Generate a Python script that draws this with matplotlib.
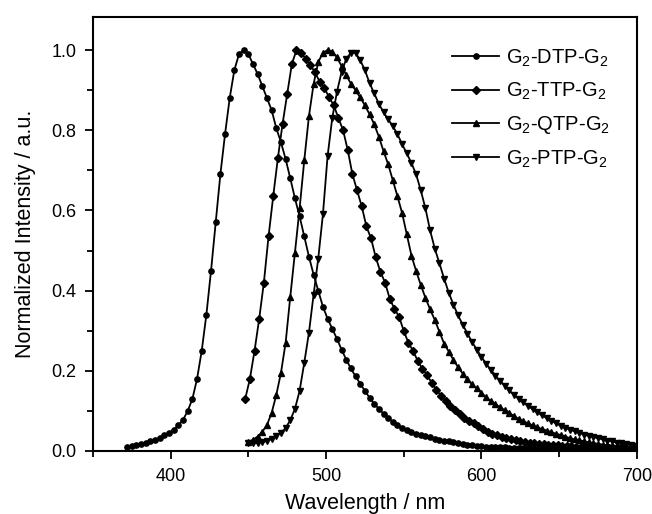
# Normalized PL spectra of the four G2-xTP-G2 compounds

import numpy as np
import matplotlib.pyplot as plt
from matplotlib.ticker import MultipleLocator, FormatStrFormatter

plt.rcParams['font.family'] = ['Liberation Sans', 'DejaVu Sans']
plt.rcParams['mathtext.fontset'] = 'custom'
plt.rcParams['mathtext.rm'] = 'Liberation Sans'
plt.rcParams['mathtext.it'] = 'Liberation Sans'

step = 3  # nm between recorded points

# G2-DTP-G2, 372 - 699 nm
dtp_start = 372
dtp = [0.009, 0.012, 0.015, 0.018, 0.021, 0.024, 0.028, 0.033, 0.039, 0.045,
       0.053, 0.064, 0.078, 0.100, 0.130, 0.180, 0.250, 0.340, 0.450, 0.570,
       0.690, 0.790, 0.880, 0.950, 0.990, 1.000, 0.990, 0.965, 0.940, 0.910,
       0.880, 0.850, 0.805, 0.770, 0.728, 0.680, 0.630, 0.585, 0.535, 0.485,
       0.440, 0.400, 0.360, 0.330, 0.305, 0.280, 0.253, 0.228, 0.206, 0.186,
       0.168, 0.150, 0.133, 0.118, 0.105, 0.093, 0.082, 0.073, 0.065, 0.058,
       0.052, 0.047, 0.043, 0.040, 0.037, 0.034, 0.031, 0.028, 0.026, 0.024,
       0.022, 0.020, 0.018, 0.016, 0.015, 0.013, 0.012, 0.011, 0.010, 0.010,
       0.009, 0.009, 0.008, 0.008, 0.007, 0.007, 0.007, 0.006, 0.006, 0.006,
       0.005, 0.005, 0.005, 0.005, 0.004, 0.004, 0.004, 0.004, 0.004, 0.003,
       0.003, 0.003, 0.003, 0.003, 0.003, 0.003, 0.002, 0.002, 0.002, 0.002]

# G2-TTP-G2, 448 - 697 nm
ttp_start = 448
ttp = [0.130, 0.180, 0.250, 0.330, 0.420, 0.535, 0.635, 0.730, 0.815, 0.890,
       0.965, 1.000, 0.993, 0.978, 0.962, 0.944, 0.920, 0.905, 0.882, 0.862,
       0.830, 0.800, 0.750, 0.690, 0.650, 0.610, 0.560, 0.530, 0.483, 0.447,
       0.420, 0.380, 0.355, 0.335, 0.300, 0.270, 0.250, 0.225, 0.205, 0.190,
       0.170, 0.153, 0.138, 0.125, 0.113, 0.102, 0.092, 0.083, 0.076, 0.070,
       0.062, 0.055, 0.048, 0.043, 0.039, 0.035, 0.032, 0.029, 0.027, 0.025,
       0.023, 0.021, 0.019, 0.018, 0.017, 0.016, 0.015, 0.014, 0.013, 0.012,
       0.012, 0.011, 0.010, 0.010, 0.009, 0.009, 0.008, 0.008, 0.008, 0.007,
       0.007, 0.007, 0.006, 0.006]

# G2-QTP-G2, 450 - 699 nm
qtp_start = 450
qtp = [0.022, 0.028, 0.036, 0.048, 0.065, 0.095, 0.140, 0.195, 0.270, 0.385,
       0.495, 0.605, 0.725, 0.835, 0.915, 0.970, 0.993, 1.000, 0.996, 0.982,
       0.960, 0.938, 0.916, 0.900, 0.882, 0.862, 0.840, 0.815, 0.784, 0.748,
       0.715, 0.675, 0.635, 0.593, 0.540, 0.487, 0.449, 0.414, 0.382, 0.353,
       0.327, 0.297, 0.268, 0.248, 0.227, 0.209, 0.193, 0.179, 0.166, 0.156,
       0.145, 0.134, 0.125, 0.117, 0.109, 0.102, 0.095, 0.087, 0.080, 0.074,
       0.069, 0.064, 0.059, 0.055, 0.051, 0.047, 0.043, 0.040, 0.036, 0.032,
       0.029, 0.027, 0.024, 0.022, 0.020, 0.018, 0.016, 0.014, 0.013, 0.012,
       0.011, 0.010, 0.010, 0.009]

# G2-PTP-G2, 450 - 699 nm
ptp_start = 450
ptp = [0.020, 0.020, 0.020, 0.022, 0.025, 0.030, 0.037, 0.046, 0.057, 0.077,
       0.105, 0.150, 0.220, 0.295, 0.390, 0.480, 0.590, 0.735, 0.830, 0.895,
       0.945, 0.978, 0.993, 0.993, 0.975, 0.950, 0.918, 0.892, 0.866, 0.845,
       0.827, 0.810, 0.790, 0.765, 0.742, 0.718, 0.690, 0.650, 0.605, 0.550,
       0.505, 0.468, 0.430, 0.395, 0.365, 0.338, 0.315, 0.293, 0.272, 0.253,
       0.235, 0.218, 0.203, 0.188, 0.175, 0.163, 0.151, 0.140, 0.130, 0.121,
       0.113, 0.104, 0.096, 0.089, 0.082, 0.075, 0.069, 0.063, 0.058, 0.053,
       0.049, 0.045, 0.041, 0.038, 0.035, 0.032, 0.029, 0.026, 0.024, 0.021,
       0.019, 0.017, 0.015, 0.013]

labels = ['G$_2$-DTP-G$_2$', 'G$_2$-TTP-G$_2$', 'G$_2$-QTP-G$_2$', 'G$_2$-PTP-G$_2$']
series = [(dtp_start, dtp, 'o', 3.8),
          (ttp_start, ttp, 'D', 3.8),
          (qtp_start, qtp, '^', 4.3),
          (ptp_start, ptp, 'v', 4.3)]

fig = plt.figure(figsize=(6.52, 5.14), dpi=100)
ax = fig.add_axes([0.1426, 0.1226, 0.834, 0.844])

for (start, vals, mk, ms), lab in zip(series, labels):
    wl = start + step * np.arange(len(vals))
    ax.plot(wl, vals, color='black', lw=1.3, marker=mk, ms=ms,
            mfc='black', mec='black', label=lab)

ax.set_xlim(350, 700)
ax.set_ylim(0, 1.082)
ax.xaxis.set_minor_locator(MultipleLocator(50))
ax.set_xticks([400, 500, 600, 700])
ax.yaxis.set_major_locator(MultipleLocator(0.2))
ax.yaxis.set_minor_locator(MultipleLocator(0.1))
ax.yaxis.set_major_formatter(FormatStrFormatter('%.1f'))
ax.tick_params(which='both', direction='out', width=1.3, labelsize=13)
ax.tick_params(which='major', length=6, pad=6)
ax.tick_params(which='minor', length=4)
for sp in ax.spines.values():
    sp.set_linewidth(1.5)

ax.set_xlabel('Wavelength / nm', fontsize=15.5, labelpad=6)
ax.set_ylabel('Normalized Intensity / a.u.', fontsize=15.5, labelpad=11)

ax.legend(loc='upper right', bbox_to_anchor=(0.985, 0.972), frameon=False,
          fontsize=14.5, handlelength=2.35, labelspacing=0.6,
          handletextpad=0.35, borderpad=0.4)

fig.savefig('out.png', dpi=100)
